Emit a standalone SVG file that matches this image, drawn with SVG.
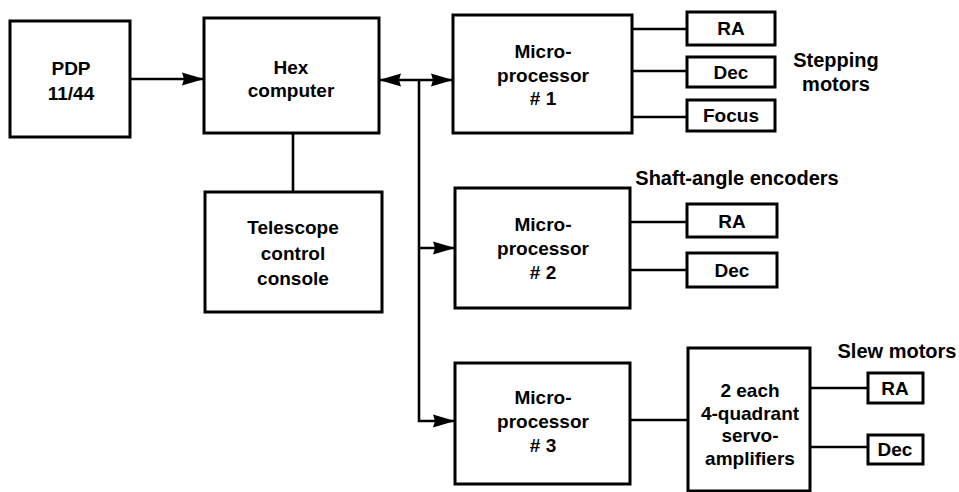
<svg xmlns="http://www.w3.org/2000/svg" width="959" height="492" viewBox="0 0 959 492">
  <defs>
    <style>
      .box { fill: #fff; stroke: #000; stroke-width: 3; }
      .wire { fill: none; stroke: #000; stroke-width: 2.6; }
      .lbl { font-family: "Liberation Sans", Arial, sans-serif; font-weight: bold; font-size: 19px; fill: #000; text-anchor: middle; }
      .big { font-size: 20px; }
    </style>
    <marker id="head" viewBox="0 0 22 14" refX="22" refY="7" markerWidth="22" markerHeight="14" markerUnits="userSpaceOnUse" orient="auto-start-reverse">
      <path d="M0,0.5 L22,7 L0,13.5 L2,7 Z" fill="#000"/>
    </marker>
  </defs>
  <rect width="959" height="492" fill="#fff"/>

  <!-- connectors -->
  <g id="connectors">
    <path class="wire" d="M130,79 H204" marker-end="url(#head)"/>
    <path class="wire" d="M293,133 V192"/>
    <path class="wire" d="M379,80 H453" marker-start="url(#head)" marker-end="url(#head)"/>
    <path class="wire" d="M419,80 V421 H455" marker-end="url(#head)"/>
    <path class="wire" d="M419,248 H455" marker-end="url(#head)"/>
    <path class="wire" d="M632,29 H687 M632,71 H687 M632,117 H687"/>
    <path class="wire" d="M630,222 H687 M630,270 H687"/>
    <path class="wire" d="M630,420 H688"/>
    <path class="wire" d="M810,388 H868 M810,447 H868"/>
  </g>

  <g id="pdp">
    <rect class="box" x="10" y="21" width="120" height="116"/>
    <text class="lbl" x="71" y="75">PDP</text>
    <text class="lbl" x="71" y="100">11/44</text>
  </g>

  <g id="hex">
    <rect class="box" x="204" y="18" width="175" height="115"/>
    <text class="lbl" x="291" y="74">Hex</text>
    <text class="lbl" x="291" y="97">computer</text>
  </g>

  <g id="console">
    <rect class="box" x="205" y="192" width="177" height="120"/>
    <text class="lbl" x="293" y="234">Telescope</text>
    <text class="lbl" x="293" y="260">control</text>
    <text class="lbl" x="293" y="285">console</text>
  </g>

  <g id="micro1">
    <rect class="box" x="453" y="15" width="179" height="118"/>
    <text class="lbl" x="543" y="58">Micro-</text>
    <text class="lbl" x="543" y="82">processor</text>
    <text class="lbl" x="543" y="105"># 1</text>
  </g>

  <g id="ra1">
    <rect class="box" x="687" y="12" width="88" height="33"/>
    <text class="lbl" x="731" y="35">RA</text>
  </g>
  <g id="dec1">
    <rect class="box" x="687" y="57" width="88" height="30"/>
    <text class="lbl" x="731" y="79">Dec</text>
  </g>
  <g id="focus">
    <rect class="box" x="687" y="100" width="88" height="31"/>
    <text class="lbl" x="731" y="122">Focus</text>
  </g>
  <g id="stepping-label">
    <text class="lbl big" x="836" y="67">Stepping</text>
    <text class="lbl big" x="836" y="91">motors</text>
  </g>

  <g id="micro2">
    <rect class="box" x="455" y="188" width="175" height="120"/>
    <text class="lbl" x="543" y="231">Micro-</text>
    <text class="lbl" x="543" y="255">processor</text>
    <text class="lbl" x="543" y="279"># 2</text>
  </g>
  <g id="encoder-label">
    <text class="lbl big" x="737" y="185">Shaft-angle encoders</text>
  </g>
  <g id="ra2">
    <rect class="box" x="687" y="204" width="90" height="33"/>
    <text class="lbl" x="732" y="228">RA</text>
  </g>
  <g id="dec2">
    <rect class="box" x="687" y="253" width="90" height="34"/>
    <text class="lbl" x="732" y="277">Dec</text>
  </g>

  <g id="micro3">
    <rect class="box" x="455" y="363" width="175" height="121"/>
    <text class="lbl" x="543" y="404">Micro-</text>
    <text class="lbl" x="543" y="428">processor</text>
    <text class="lbl" x="543" y="452"># 3</text>
  </g>

  <g id="servo">
    <rect class="box" x="688" y="348" width="122" height="143"/>
    <text class="lbl" x="750" y="397">2 each</text>
    <text class="lbl" x="750" y="420">4-quadrant</text>
    <text class="lbl" x="750" y="442">servo-</text>
    <text class="lbl" x="750" y="465">amplifiers</text>
  </g>

  <g id="slew-label">
    <text class="lbl big" x="897" y="358">Slew motors</text>
  </g>
  <g id="ra3">
    <rect class="box" x="868" y="373" width="55" height="30"/>
    <text class="lbl" x="895" y="395">RA</text>
  </g>
  <g id="dec3">
    <rect class="box" x="868" y="435" width="55" height="29"/>
    <text class="lbl" x="895" y="456">Dec</text>
  </g>
</svg>
